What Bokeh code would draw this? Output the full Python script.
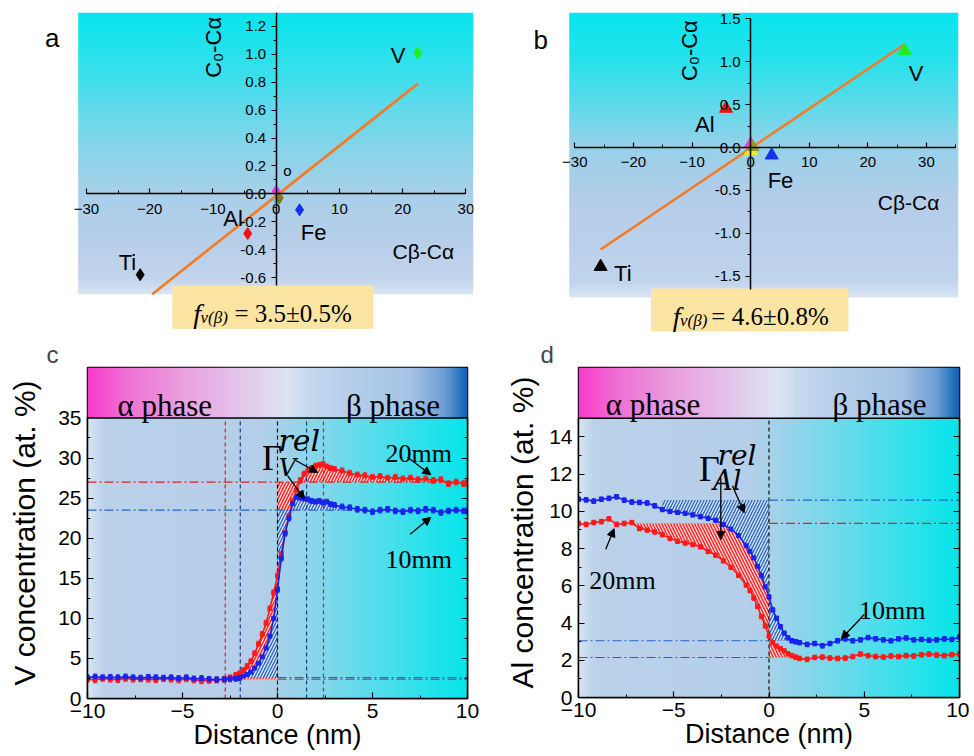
import numpy as np
from bokeh.plotting import figure
from bokeh.models import (Label, Arrow, NormalHead, Span, LinearAxis, SingleIntervalTicker,
                          PrintfTickFormatter, ColumnDataSource, Whisker, TeeHead)
from bokeh.layouts import column, row
from bokeh.embed import file_html
from bokeh.resources import INLINE

SANS = "Liberation Sans"
SERIF = "Liberation Serif"
MATH = "DejaVu Serif"

# ---------------- DATA ----------------
# (a) diamonds: x = Cbeta - Calpha, y = C0 - Calpha
a_x = [22.4, -21.5, -4.5, 3.7, 0.0, 0.2, 0.5]
a_y = [1.01, -0.58, -0.285, -0.115, 0.02, -0.05, -0.03]
a_col = ["#22ee22", "#000000", "#ee1111", "#1133ee", "#ff33ff", "#33dddd", "#887722"]
a_fit_x = [-19.6, 22.4]
a_fit_y = [-0.72, 0.79]

# (b) triangles
b_x = [26.3, -25.6, -4.2, 3.6, 0.0, 0.05, 0.3]
b_y = [1.13, -1.39, 0.455, -0.09, 0.04, -0.04, 0.01]
b_col = ["#22ee22", "#000000", "#ee1111", "#1133ee", "#ff33ff", "#eeee22", "#999922"]
b_fit_x = [-25.6, 26.4]
b_fit_y = [-1.19, 1.21]

# (c) V concentration profiles
dist_c = [-10.0, -9.6, -9.2, -8.8, -8.4, -8.0, -7.6, -7.2, -6.8, -6.4, -6.0, -5.6, -5.2, -4.8,
          -4.4, -4.0, -3.6, -3.2, -2.8, -2.5, -2.2, -2.0, -1.8, -1.6, -1.4, -1.2, -1.0, -0.8,
          -0.6, -0.4, -0.2, 0.0, 0.2, 0.4, 0.6, 0.8, 1.0, 1.2, 1.4, 1.6, 1.8, 2.0, 2.2, 2.4,
          2.6, 2.8, 3.0, 3.4, 3.8, 4.2, 4.6, 5.0, 5.4, 5.8, 6.2, 6.6, 7.0, 7.4, 7.8, 8.2,
          8.6, 9.0, 9.4, 9.8, 10.0]
V_20mm = [2.4, 2.3, 2.5, 2.4, 2.35, 2.5, 2.4, 2.45, 2.4, 2.35, 2.5, 2.4, 2.3, 2.45,
          2.3, 2.2, 2.25, 2.3, 2.4, 2.6, 2.9, 3.1, 3.5, 4.0, 4.6, 5.6, 6.8, 8.0,
          9.4, 11.2, 13.2, 15.3, 18.1, 20.7, 22.8, 24.7, 26.0, 27.2, 28.0, 28.4, 28.7, 29.0, 29.1, 29.2,
          28.9, 28.7, 28.6, 28.4, 28.1, 27.9, 27.8, 27.6, 27.7, 27.5, 27.6, 27.4, 27.5, 27.3, 27.4, 27.2,
          27.3, 26.8, 27.0, 26.8, 26.9]
V_10mm = [2.6, 2.7, 2.6, 2.65, 2.6, 2.7, 2.6, 2.55, 2.65, 2.6, 2.55, 2.6, 2.5, 2.6,
          2.45, 2.5, 2.4, 2.35, 2.4, 2.45, 2.5, 2.6, 2.8, 3.0, 3.3, 3.8, 4.4, 5.2,
          6.3, 7.8, 10.0, 13.6, 17.5, 20.6, 22.5, 24.3, 25.1, 25.0, 24.9, 24.8, 24.6, 24.5, 24.6, 24.4,
          24.5, 24.2, 24.1, 23.9, 23.8, 23.6, 23.5, 23.3, 23.5, 23.6, 23.4, 23.3, 23.5, 23.4, 23.6, 23.5,
          23.2, 23.4, 23.5, 23.4, 23.4]
V_err = 0.35
c_levels_20 = [2.4, 27.0]      # alpha / beta plateau, 20mm
c_levels_10 = [2.6, 23.5]      # alpha / beta plateau, 10mm
c_vlines = [-2.75, -1.96, 0.0, 1.53, 2.42]
c_vcolors = ["#cc2222", "#223388", "#111111", "#223388", "#cc2222"]

# (d) Al concentration profiles
dist_d = [-10.0, -9.6, -9.2, -8.8, -8.4, -8.0, -7.6, -7.2, -6.8, -6.4, -6.0, -5.6, -5.2, -4.8,
          -4.4, -4.0, -3.6, -3.2, -2.8, -2.4, -2.0, -1.6, -1.2, -1.0, -0.8, -0.6, -0.4, -0.2,
          0.0, 0.2, 0.4, 0.6, 0.8, 1.0, 1.2, 1.4, 1.6, 2.0, 2.4, 2.8, 3.2, 3.6, 4.0, 4.4,
          4.8, 5.2, 5.6, 6.0, 6.4, 6.8, 7.2, 7.6, 8.0, 8.4, 8.8, 9.2, 9.6, 10.0]
Al_10mm = [10.65, 10.62, 10.55, 10.65, 10.7, 10.78, 10.6, 10.5, 10.48, 10.45, 10.3, 10.1, 10.0, 9.95,
           9.9, 9.82, 9.72, 9.63, 9.53, 9.3, 9.05, 8.7, 8.15, 7.85, 7.5, 7.05, 6.55, 5.95,
           5.4, 4.7, 4.25, 3.8, 3.45, 3.2, 3.05, 3.0, 2.95, 2.85, 2.9, 2.78, 2.9, 3.05, 3.15, 3.05,
           3.1, 3.22, 3.15, 3.1, 3.05, 3.15, 3.2, 3.1, 3.12, 3.08, 3.1, 3.15, 3.12, 3.25]
Al_20mm = [9.35, 9.3, 9.4, 9.45, 9.6, 9.3, 9.35, 9.4, 9.08, 9.0, 8.9, 8.75, 8.55, 8.4,
           8.3, 8.22, 8.1, 7.85, 7.65, 7.35, 7.0, 6.57, 6.05, 5.75, 5.35, 4.9, 4.35, 3.85,
           3.3, 2.95, 2.75, 2.62, 2.5, 2.35, 2.25, 2.17, 2.1, 2.05, 2.15, 2.17, 2.12, 2.1, 2.12, 2.2,
           2.33, 2.25, 2.2, 2.17, 2.23, 2.2, 2.25, 2.23, 2.3, 2.33, 2.28, 2.25, 2.3, 2.33]
Al_err = 0.12
d_levels_20 = [9.35, 2.15]
d_levels_10 = [10.6, 3.05]

RED = "#ff1a1a"
BLUE = "#1a22ee"


# ---------------- helpers ----------------
def hexrgb(h):
    return [int(h[i:i + 2], 16) for i in (1, 3, 5)]


def gradient(stops, n=300, vertical=False):
    pos = np.array([s[0] for s in stops], float)
    cols = np.array([hexrgb(s[1]) for s in stops], float)
    t = np.linspace(pos[0], pos[-1], n)
    rgb = np.stack([np.interp(t, pos, cols[:, k]) for k in range(3)], axis=1).astype(np.uint8)
    if vertical:
        img = np.zeros((n, 1), dtype=np.uint32)
        v = img.view(np.uint8).reshape((n, 1, 4))
        v[:, 0, :3] = rgb
        v[:, 0, 3] = 255
    else:
        img = np.zeros((1, n), dtype=np.uint32)
        v = img.view(np.uint8).reshape((1, n, 4))
        v[0, :, :3] = rgb
        v[0, :, 3] = 255
    return img, pos[0], pos[-1] - pos[0]


def base_fig(xr, yr, fw, fh, l, r, t, b):
    p = figure(x_range=xr, y_range=yr, frame_width=fw, frame_height=fh,
               min_border_left=l, min_border_right=r, min_border_top=t, min_border_bottom=b,
               output_backend="svg", toolbar_location=None)
    p.title.visible = False
    p.grid.visible = False
    p.outline_line_color = None
    p.background_fill_color = "white"
    p.border_fill_color = "white"
    return p


def lab(p, x, y, text, size, font=SANS, style="normal", color="black", align="left",
        baseline="alphabetic", angle=0.0):
    p.add_layout(Label(x=x, y=y, text=text, text_font_size=f"{size}px", text_font=font,
                       text_font_style=style, text_color=color, text_align=align,
                       text_baseline=baseline, angle=angle))


def arr(p, x0, y0, x1, y1):
    p.add_layout(Arrow(x_start=x0, y_start=y0, x_end=x1, y_end=y1, line_width=1.3,
                       line_color="black",
                       end=NormalHead(size=8, fill_color="black", line_color="black")))


def style_axis(ax, size, inward):
    ax.axis_line_color = "black"
    ax.axis_line_width = 1.5
    ax.major_tick_line_color = "black"
    ax.minor_tick_line_color = "black"
    ax.major_tick_line_width = 1.2
    ax.major_label_text_font = SANS
    ax.major_label_text_font_size = f"{size}px"
    ax.major_label_text_color = "black"
    ax.axis_label_text_font = SANS
    ax.axis_label_text_font_style = "normal"
    ax.axis_label_text_color = "black"
    if inward:
        ax.major_tick_in, ax.major_tick_out = 6, 0
        ax.minor_tick_in, ax.minor_tick_out = 3, 0
    else:
        ax.major_tick_in, ax.major_tick_out = 0, 5
        ax.minor_tick_in, ax.minor_tick_out = 0, 3


def curve(p, x, y, err, color):
    src = ColumnDataSource(dict(x=x, y=y, lo=[v - err for v in y], up=[v + err for v in y]))
    p.line("x", "y", source=src, line_color=color, line_width=1.6)
    p.scatter("x", "y", source=src, marker="square", size=4, fill_color=color, line_color=color)
    p.add_layout(Whisker(source=src, base="x", upper="up", lower="lo", line_color=color,
                         line_width=1,
                         upper_head=TeeHead(size=4, line_color=color, line_width=1),
                         lower_head=TeeHead(size=4, line_color=color, line_width=1)))


def scatter_panel(p, xs, ys, cols, marker, size, fitx, fity):
    p.line(fitx, fity, line_color="#f47b20", line_width=2.6)
    src = ColumnDataSource(dict(x=xs, y=ys, c=cols))
    p.scatter("x", "y", source=src, marker=marker, size=size, fill_color="c", line_color="c")


# ---------------- panel a ----------------
pa = base_fig((-38.84, 31.2), (-0.98, 1.30), 443, 318, 30, 14, 12, 8)
g, y0, h = gradient([(-0.72, "#d8e6f4"), (-0.6, "#c2d5ec"), (-0.3, "#b6cee9"), (0.0, "#a9d0e9"),
                     (0.3, "#8ad4ea"), (0.6, "#62daeb"), (0.9, "#34e0ec"), (1.3, "#08e6ee")],
                    vertical=True)
pa.image_rgba(image=[g], x=-31.3, y=y0, dw=62.5, dh=h, level="image")
pa.quad(left=-16.42, right=15.38, top=-0.658, bottom=-0.968, fill_color="#fce4a2", line_color=None)
scatter_panel(pa, a_x, a_y, a_col, "diamond", 12, a_fit_x, a_fit_y)
pa.xaxis.fixed_location = 0
pa.yaxis.fixed_location = 0
pa.xaxis.ticker = SingleIntervalTicker(interval=10, num_minor_ticks=2)
pa.yaxis.ticker = SingleIntervalTicker(interval=0.2, num_minor_ticks=2)
pa.yaxis.formatter = PrintfTickFormatter(format="%.1f")
pa.xaxis.bounds = (-30, 30)
pa.yaxis.bounds = (-0.66, 1.3)
style_axis(pa.xaxis[0], 15, False)
style_axis(pa.yaxis[0], 15, False)
pa.xaxis.major_tick_in, pa.xaxis.major_tick_out = 5, 0
pa.xaxis.minor_tick_in, pa.xaxis.minor_tick_out = 3, 0
pa.xaxis.major_label_standoff = 10
lab(pa, 18.1, 0.99, "V", 22)
lab(pa, -24.9, -0.49, "Ti", 22)
lab(pa, -8.35, -0.18, "Al", 22)
lab(pa, 3.88, -0.28, "Fe", 22)
lab(pa, 1.14, 0.167, "o", 15)
lab(pa, -9.9, 1.05, "C₀-Cα", 22, align="center", baseline="middle", angle=np.pi / 2)
lab(pa, 18.4, -0.41, "Cβ-Cα", 21)
lab(pa, -13.1, -0.861, "f", 28, font=SERIF, style="italic")
lab(pa, -11.95, -0.89, "v(β)", 17, font=SERIF, style="italic")
lab(pa, -6.6, -0.861, "= 3.5±0.5%", 25, font=SERIF)
lab(pa, -35.4, 1.118, "a", 26, align="center", baseline="middle")

# ---------------- panel b ----------------
pb = base_fig((-39.27, 35.47), (-2.17, 1.575), 438, 321, 33, 10, 9, 8)
g, y0, h = gradient([(-1.75, "#d8e6f4"), (-1.55, "#c0d4ec"), (-0.6, "#b4cde9"), (0.0, "#98d1ea"),
                     (0.5, "#5edaea"), (1.0, "#28e2ec"), (1.575, "#08e6ee")], vertical=True)
pb.image_rgba(image=[g], x=-30.95, y=y0, dw=66.42, dh=h, level="image")
pb.quad(left=-17.0, right=16.7, top=-1.645, bottom=-2.147, fill_color="#fce4a2", line_color=None)
scatter_panel(pb, b_x, b_y, b_col, "triangle", 13, b_fit_x, b_fit_y)
pb.xaxis.fixed_location = 0
pb.yaxis.fixed_location = 0
pb.xaxis.ticker = SingleIntervalTicker(interval=10, num_minor_ticks=2)
pb.yaxis.ticker = SingleIntervalTicker(interval=0.5, num_minor_ticks=2)
pb.yaxis.formatter = PrintfTickFormatter(format="%.1f")
pb.xaxis.bounds = (-30, 35)
pb.yaxis.bounds = (-1.66, 1.5)
style_axis(pb.xaxis[0], 15, False)
style_axis(pb.yaxis[0], 15, False)
pb.xaxis.major_tick_in, pb.xaxis.major_tick_out = 5, 0
pb.xaxis.minor_tick_in, pb.xaxis.minor_tick_out = 3, 0
pb.xaxis.major_label_standoff = 9
lab(pb, 27.0, 0.863, "V", 22)
lab(pb, -23.3, -1.47, "Ti", 22)
lab(pb, -9.5, 0.272, "Al", 22)
lab(pb, 2.9, -0.389, "Fe", 22)
lab(pb, -10.5, 1.13, "C₀-Cα", 22, align="center", baseline="middle", angle=np.pi / 2)
lab(pb, 21.7, -0.642, "Cβ-Cα", 21)
lab(pb, -13.3, -1.975, "f", 28, font=SERIF, style="italic")
lab(pb, -12.05, -2.02, "v(β)", 17, font=SERIF, style="italic")
lab(pb, -6.7, -1.975, "= 4.6±0.8%", 25, font=SERIF)
lab(pb, -35.8, 1.252, "b", 26, align="center", baseline="middle")

# ---------------- shared gradients for c, d ----------------
bar_stops = [(-10, "#f93acb"), (-8, "#f070d6"), (-5, "#eaa0df"), (-2, "#e4c6ec"), (0.5, "#dde6f4"),
             (1.5, "#c6daee"), (4, "#b4cdea"), (7, "#a6c4e6"), (8.8, "#6f9fd6"), (10, "#0b63b6")]
plot_stops = [(-10, "#d6e5f3"), (-9.2, "#bcd2eb"), (-1, "#b5cee9"), (0, "#a8d2ea"), (3, "#78d9eb"),
              (6.5, "#40e0eb"), (10, "#06e6ea")]
g_bar, _, _ = gradient(bar_stops)
g_plot, _, _ = gradient(plot_stops)


def profile_fig(yr_top, ymax, fw, fh, l, r, t, b, tick_int, ylabel, bar_h, letter, off, ystand):
    p = base_fig((-10, 10), (0, yr_top), fw, fh, l, r, t, b)
    p.title.visible = True
    p.title.text = letter
    p.title.text_font = SANS
    p.title.text_font_size = "24px"
    p.title.text_font_style = "normal"
    p.title.align = "left"
    p.title.offset = off
    p.title.standoff = 0
    p.outline_line_color = "black"
    p.outline_line_width = 1.5
    p.image_rgba(image=[g_plot], x=-10, y=0, dw=20, dh=ymax, level="image")
    p.image_rgba(image=[g_bar], x=-10, y=ymax, dw=20, dh=bar_h, level="image")
    p.xaxis.ticker = SingleIntervalTicker(interval=5, num_minor_ticks=2)
    p.yaxis.ticker = SingleIntervalTicker(interval=tick_int, num_minor_ticks=2)
    p.yaxis.bounds = (0, ymax)
    style_axis(p.xaxis[0], 21, True)
    style_axis(p.yaxis[0], 21, True)
    p.xaxis.axis_label = "Distance (nm)"
    p.xaxis.axis_label_text_font_size = "27px"
    p.xaxis.major_label_standoff = 5
    p.xaxis.axis_label_standoff = -1
    p.yaxis.axis_label = ylabel
    p.yaxis.axis_label_text_font_size = "30px"
    p.yaxis.major_label_standoff = 6
    p.yaxis.axis_label_standoff = ystand
    ra = LinearAxis(ticker=SingleIntervalTicker(interval=tick_int, num_minor_ticks=2),
                    bounds=(0, ymax))
    style_axis(ra, 21, True)
    ra.major_label_text_font_size = "0px"
    ra.major_label_text_color = None
    p.add_layout(ra, "right")
    p.add_layout(Span(location=ymax, dimension="width", line_color="black", line_width=1.5))
    return p


def hatch(p, x, y1, y2, color, pattern):
    p.varea(x=x, y1=y1, y2=y2, fill_color=color, hatch_pattern=pattern, hatch_color="white",
            hatch_scale=6, hatch_weight=1.3, hatch_alpha=0.85)


# ---------------- panel c ----------------
pc = profile_fig(41.29, 35, 380, 331, 87, 20, 29, 56, 5, "V concentration (at. %)", 6.29,
                 "c", -41, 14)
xc = np.array(dist_c)
r = np.array(V_20mm)
bl = np.array(V_10mm)
m = (xc >= -2.8) & (xc <= 0)
hatch(pc, xc[m], c_levels_20[0], np.maximum(r[m], c_levels_20[0]), "#ff2424", "/")
m = xc >= 0
hatch(pc, xc[m], np.minimum(r[m], c_levels_20[1]), c_levels_20[1], "#ff2424", "/")
hatch(pc, xc[m], c_levels_20[1], np.maximum(r[m], c_levels_20[1]), "#ff2424", "/")
m = (xc >= -2.0) & (xc <= 0)
hatch(pc, xc[m], c_levels_10[0], np.maximum(bl[m], c_levels_10[0]), "#2f6cc4", "/")
m = (xc >= 0) & (xc <= 4.0)
hatch(pc, xc[m], np.minimum(bl[m], c_levels_10[1]), c_levels_10[1], "#2f6cc4", "/")
hatch(pc, xc[m], c_levels_10[1], np.maximum(bl[m], c_levels_10[1]), "#2f6cc4", "/")
for xv, cv in zip(c_vlines, c_vcolors):
    pc.segment(x0=xv, y0=0, x1=xv, y1=35, line_color=cv, line_dash="4 3", line_width=1.2)
pc.segment(x0=-10, y0=c_levels_20[1], x1=10, y1=c_levels_20[1], line_color="#dd2222",
           line_dash="9 3 2 3", line_width=1.2)
pc.segment(x0=-10, y0=c_levels_10[1], x1=10, y1=c_levels_10[1], line_color="#2266cc",
           line_dash="9 3 2 3", line_width=1.2)
pc.segment(x0=0, y0=c_levels_20[0], x1=10, y1=c_levels_20[0], line_color="#dd2222",
           line_dash="9 3 2 3", line_width=1.2)
pc.segment(x0=0, y0=c_levels_10[0], x1=10, y1=c_levels_10[0], line_color="#2266cc",
           line_dash="9 3 2 3", line_width=1.2)
curve(pc, dist_c, V_20mm, V_err, RED)
curve(pc, dist_c, V_10mm, V_err, BLUE)
lab(pc, -8.42, 36.58, "α phase", 31, font=SERIF)
lab(pc, 3.6, 36.58, "β phase", 31, font=SERIF)
lab(pc, -0.81, 29.94, "Γ", 35, font=SERIF)
lab(pc, 0.05, 32.2, "rel", 30, font=MATH, style="italic")
lab(pc, 0.07, 28.77, "V", 24, font=MATH, style="italic")
lab(pc, 5.68, 30.6, "20mm", 26, font=SERIF)
lab(pc, 5.68, 17.3, "10mm", 26, font=SERIF)
arr(pc, 0.96, 29.69, 2.11, 28.2)
arr(pc, 0.53, 27.8, 1.41, 24.9)
arr(pc, 6.84, 30.1, 8.07, 27.9)
arr(pc, 6.98, 20.5, 8.07, 22.6)

# ---------------- panel d ----------------
pd_ = profile_fig(17.73, 15, 381, 330, 91, 10, 27, 56, 2, "Al concentration (at. %)", 2.73,
                  "d", -38, 7)
xd = np.array(dist_d)
rd = np.array(Al_20mm)
bd = np.array(Al_10mm)
m = (xd >= -7.2) & (xd <= 0)
hatch(pd_, xd[m], np.minimum(rd[m], d_levels_20[0]), d_levels_20[0], "#ff2424", "\\")
m = (xd >= 0) & (xd <= 1.6)
hatch(pd_, xd[m], d_levels_20[1], np.maximum(rd[m], d_levels_20[1]), "#ff2424", "\\")
m = (xd >= -5.6) & (xd <= 0)
hatch(pd_, xd[m], np.minimum(bd[m], d_levels_10[0]), d_levels_10[0], "#2f6cc4", "/")
m = (xd >= 0) & (xd <= 1.4)
hatch(pd_, xd[m], d_levels_10[1], np.maximum(bd[m], d_levels_10[1]), "#2f6cc4", "/")
pd_.segment(x0=0, y0=0, x1=0, y1=15, line_color="#111111", line_dash="4 3", line_width=1.2)
pd_.segment(x0=0, y0=d_levels_10[0], x1=10, y1=d_levels_10[0], line_color="#2266cc",
            line_dash="9 3 2 3", line_width=1.2)
pd_.segment(x0=0, y0=d_levels_20[0], x1=10, y1=d_levels_20[0], line_color="#dd2222",
            line_dash="9 3 2 3", line_width=1.2)
pd_.segment(x0=-10, y0=d_levels_10[1], x1=0, y1=d_levels_10[1], line_color="#2266cc",
            line_dash="9 3 2 3", line_width=1.2)
pd_.segment(x0=-10, y0=d_levels_20[1], x1=0, y1=d_levels_20[1], line_color="#dd2222",
            line_dash="9 3 2 3", line_width=1.2)
curve(pd_, dist_d, Al_20mm, Al_err, RED)
curve(pd_, dist_d, Al_10mm, Al_err, BLUE)
lab(pd_, -8.57, 15.75, "α phase", 31, font=SERIF)
lab(pd_, 3.33, 15.75, "β phase", 31, font=SERIF)
lab(pd_, -3.68, 12.26, "Γ", 36, font=SERIF)
lab(pd_, -2.7, 13.02, "rel", 28, font=MATH, style="italic")
lab(pd_, -2.93, 11.66, "Al", 27, font=MATH, style="italic")
lab(pd_, -9.44, 6.26, "20mm", 26, font=SERIF)
lab(pd_, 4.73, 4.65, "10mm", 26, font=SERIF)
arr(pd_, -2.53, 11.81, -2.53, 8.49)
arr(pd_, -1.92, 11.38, -1.30, 9.93)
arr(pd_, -8.57, 7.96, -8.13, 9.07)
arr(pd_, 5.0, 4.46, 3.8, 3.16)

layout = column(row(pa, pb), row(pc, pd_))
open("out.html", "w").write(file_html(layout, INLINE))
